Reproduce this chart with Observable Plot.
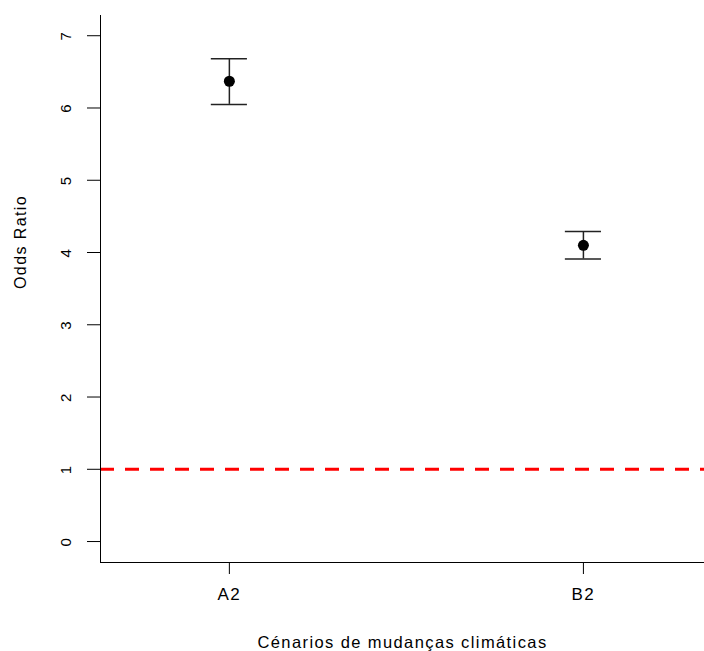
<!DOCTYPE html>
<html><head><meta charset="utf-8">
<script src="https://cdn.jsdelivr.net/npm/d3@7"></script>
<script src="https://cdn.jsdelivr.net/npm/@observablehq/plot@0.6"></script>
<style>body{margin:0;background:#fff;} svg{font-family:"Liberation Sans",Arial,sans-serif;}</style>
</head><body><div id="chart"></div>
<script>
const scenarios = ["A2", "B2"];
const positions = [1, 2];
const oddsRatio = [6.37, 4.10];
const lower = [6.05, 3.91];
const upper = [6.68, 4.29];
const yTicks = [0, 1, 2, 3, 4, 5, 6, 7];
const refLine = [1];

const data = scenarios.map((s, i) => ({s, x: positions[i], or: oddsRatio[i], lo: lower[i], hi: upper[i]}));
const capHalf = 0.051;
const caps = data.flatMap(d => [{x: d.x, y: d.lo}, {x: d.x, y: d.hi}]);

const chart = Plot.plot({
  width: 704, height: 651,
  marginLeft: 100, marginTop: 15, marginBottom: 89, marginRight: 0,
  style: {fontFamily: "Liberation Sans, Arial, sans-serif", fontSize: "15px", background: "#fff", color: "#000", letterSpacing: "1.4px"},
  x: {type: "linear", domain: [0.636, 2.342]},
  y: {type: "linear", domain: [-0.29, 7.28]},
  marks: [
    Plot.ruleY(refLine, {stroke: "#ff0000", strokeWidth: 3, strokeDasharray: "14,11"}),
    Plot.ruleX(data, {x: "x", y1: "lo", y2: "hi", stroke: "#222", strokeWidth: 1.5}),
    Plot.ruleY(caps, {y: "y", x1: d => d.x - capHalf, x2: d => d.x + capHalf, stroke: "#222", strokeWidth: 1.5}),
    Plot.dot(data, {x: "x", y: "or", r: 5.5, fill: "#000", stroke: "none"}),
    Plot.axisY(yTicks, {tickSize: 13, tickPadding: 17, tickRotate: -90, tickFormat: "d", label: null, fontSize: 15}),
    Plot.axisX(positions, {tickSize: 12, tickPadding: 13, tickFormat: d => scenarios[positions.indexOf(d)], label: null, fontSize: 17}),
    Plot.ruleX([0.636], {y1: -0.29, y2: 7.28, stroke: "#000"}),
    Plot.ruleY([-0.29], {stroke: "#000"}),
    Plot.text(["Odds Ratio"], {frameAnchor: "left", dx: -80, rotate: -90, fontSize: 16}),
    Plot.text(["Cénarios de mudanças climáticas"], {frameAnchor: "bottom", dy: 85, fontSize: 16.5})
  ]
});
document.getElementById("chart").appendChild(chart);
</script>
</body></html>
